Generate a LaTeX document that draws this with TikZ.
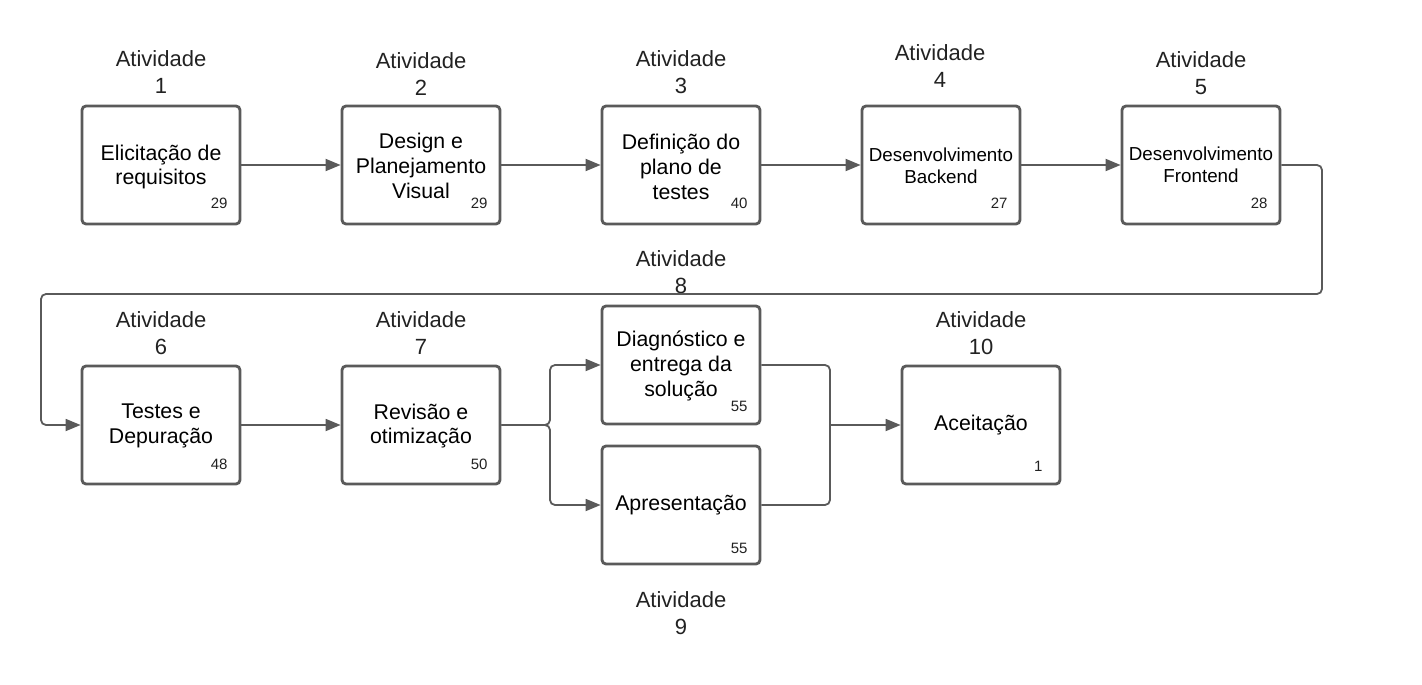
\documentclass[tikz,border=0pt]{standalone}
\usepackage{fontspec}
\setmainfont{Liberation Sans}
\usetikzlibrary{arrows.meta}
\definecolor{edge}{HTML}{5A5A5A}
\definecolor{txt}{HTML}{222222}
\begin{document}
\begin{tikzpicture}[x=1pt,y=-1pt,
  box/.style={draw=edge,line width=2.8pt,rounded corners=4pt,fill=white,minimum width=158pt,minimum height=118pt,inner sep=0pt},
  btext/.style={align=center,font=\fontsize{21.3}{24.8}\selectfont,text=black},
  stext/.style={align=center,font=\fontsize{18.8}{22.5}\selectfont,text=black},
  num/.style={font=\fontsize{15}{16}\selectfont,text=txt,anchor=east},
  lab/.style={align=center,font=\fontsize{22}{26.5}\selectfont,text=txt},
  conn/.style={draw=edge,line width=1.8pt,rounded corners=5pt,-{Triangle[length=15pt,width=12pt]}},
  conn0/.style={draw=edge,line width=1.8pt,rounded corners=5pt}]
\useasboundingbox (0,0) rectangle (1422,685);
% boxes
\node[box] (b1) at (161,165) {};
\node[box] (b2) at (421,165) {};
\node[box] (b3) at (681,165) {};
\node[box] (b4) at (941,165) {};
\node[box] (b5) at (1201,165) {};
\node[box] (b6) at (161,425) {};
\node[box] (b7) at (421,425) {};
\node[box] (b8) at (681,365) {};
\node[box] (b9) at (681,505) {};
\node[box] (b10) at (981,425) {};
% box texts
\node[btext] (t1) at (161,167) {Elicitação de\\requisitos};
\node[btext] (t2) at (421,166) {Design e\\Planejamento\\Visual};
\node[btext] (t3) at (681,167) {Definição do\\plano de\\testes};
\node[stext] (t4) at (941,166) {Desenvolvimento\\Backend};
\node[stext] (t5) at (1201,165) {Desenvolvimento\\Frontend};
\node[btext] (t6) at (161,426) {Testes e\\Depuração};
\node[btext] (t7) at (421,426) {Revisão e\\otimização};
\node[btext] (t8) at (681,366) {Diagnóstico e\\entrega da\\solução};
\node[btext] (t9) at (681,505) {Apresentação};
\node[btext] (t10) at (981,425) {Aceitação};
% numbers
\node[num] (n1) at (231,203) {29};
\node[num] (n2) at (491,203) {29};
\node[num] (n3) at (751,203) {40};
\node[num] (n4) at (1011,203) {27};
\node[num] (n5) at (1271,203) {28};
\node[num] (n6) at (231,464) {48};
\node[num] (n7) at (491,464) {50};
\node[num] (n8) at (751,406) {55};
\node[num] (n9) at (751,548) {55};
\node[num] (n10) at (1046,466) {1};
% labels
\node[lab] (l1) at (161,72) {Atividade\\1};
\node[lab] (l2) at (421,74) {Atividade\\2};
\node[lab] (l3) at (681,72) {Atividade\\3};
\node[lab] (l4) at (940,66) {Atividade\\4};
\node[lab] (l5) at (1201,73) {Atividade\\5};
\node[lab] (l6) at (161,333) {Atividade\\6};
\node[lab] (l7) at (421,333) {Atividade\\7};
\node[lab] (l8) at (681,272) {Atividade\\8};
\node[lab] (l9) at (681,613) {Atividade\\9};
\node[lab] (l10) at (981,333) {Atividade\\10};
% connectors
\draw[conn] (b1.east) -- (b2.west);
\draw[conn] (b2.east) -- (b3.west);
\draw[conn] (b3.east) -- (b4.west);
\draw[conn] (b4.east) -- (b5.west);
\draw[conn] (b5.east) -- (1322,165) -- (1322,294) -- (41,294) -- (41,425) -- (b6.west);
\draw[conn] (b6.east) -- (b7.west);
\coordinate (s7) at (550,425);
\coordinate (j10) at (830,425);
\draw[conn] (b7.east) -- (s7) -- (550,365) -- (b8.west);
\draw[conn] (b7.east) -- (s7) -- (550,505) -- (b9.west);
\draw[conn0] (b8.east) -- (830,365) -- (j10);
\draw[conn0] (b9.east) -- (830,505) -- (j10);
\draw[conn] (j10) -- (b10.west);
\end{tikzpicture}
\end{document}
